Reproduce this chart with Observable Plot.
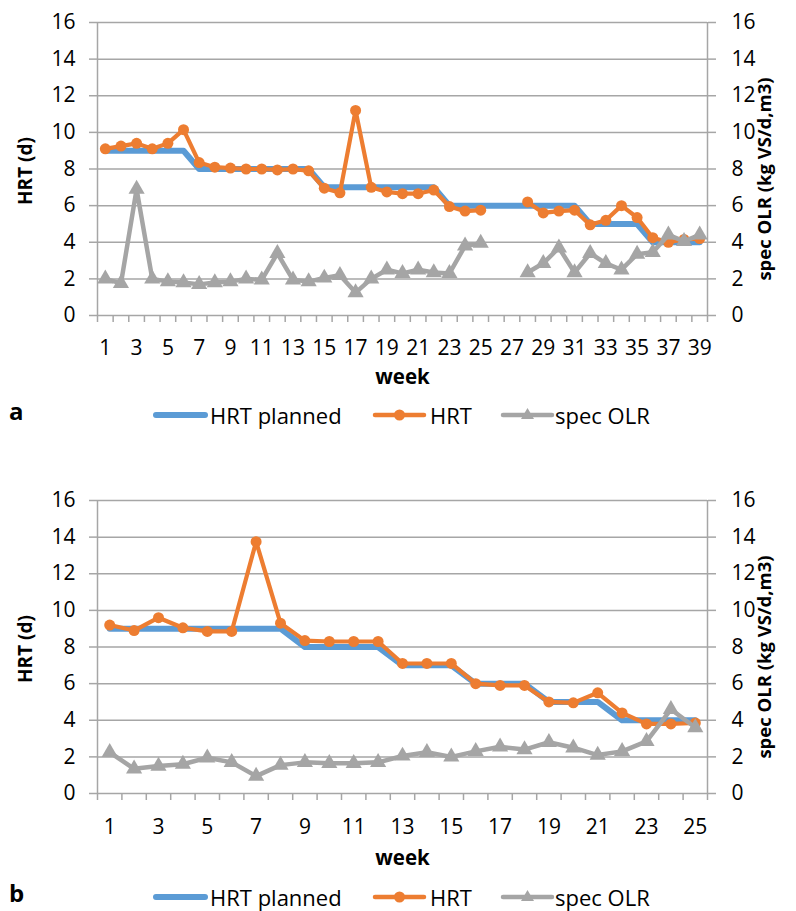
<!DOCTYPE html>
<html><head><meta charset="utf-8">
<script src="https://cdn.jsdelivr.net/npm/d3@7"></script>
<script src="https://cdn.jsdelivr.net/npm/@observablehq/plot@0.6"></script>
<style>
body{margin:0;background:#fff;font-family:"Open Sans",sans-serif;}
#wrap{position:relative;width:796px;height:911px;overflow:hidden;}
.panel{position:absolute;left:0;}
.legend{position:absolute;left:0;width:796px;height:40px;}
.legend .t{position:absolute;top:0;line-height:40px;font-size:22px;color:#000;white-space:nowrap;}
.legend .letter{position:absolute;top:0;line-height:40px;font-size:24px;font-weight:bold;color:#000;}
.legend svg{position:absolute;top:0;}
</style></head><body><div id="wrap"></div>
<script>
// ---- Panel a data ----
const weeksA = [1,2,3,4,5,6,7,8,9,10,11,12,13,14,15,16,17,18,19,20,21,22,23,24,25,26,27,28,29,30,31,32,33,34,35,36,37,38,39];
const plannedA = [9,9,9,9,9,9,8,8,8,8,8,8,8,8,7,7,7,7,7,7,7,7,6,6,6,6,6,6,6,6,6,5,5,5,5,4,4,4,4];
const hrtA = [9.1,9.25,9.4,9.1,9.4,10.15,8.35,8.1,8.05,8.0,8.0,7.95,8.0,7.9,6.95,6.7,11.2,7.0,6.75,6.65,6.65,6.85,5.95,5.7,5.75,null,null,6.2,5.6,5.7,5.75,4.95,5.2,6.0,5.35,4.25,4.0,4.15,4.2];
const olrA = [2.0,1.75,6.9,2.0,1.85,1.8,1.7,1.8,1.85,2.0,1.95,3.4,1.95,1.85,2.05,2.2,1.25,2.0,2.5,2.3,2.5,2.35,2.3,3.8,3.95,null,null,2.35,2.85,3.7,2.35,3.4,2.85,2.5,3.35,3.45,4.4,4.05,4.4];
const labelsA = [1,3,5,7,9,11,13,15,17,19,21,23,25,27,29,31,33,35,37,39];

// ---- Panel b data ----
const weeksB = [1,2,3,4,5,6,7,8,9,10,11,12,13,14,15,16,17,18,19,20,21,22,23,24,25];
const plannedB = [9,9,9,9,9,9,9,9,8,8,8,8,7,7,7,6,6,6,5,5,5,4,4,4,4];
const hrtB = [9.2,8.9,9.6,9.05,8.85,8.85,13.75,9.3,8.35,8.3,8.3,8.3,7.1,7.1,7.1,6.0,5.9,5.9,5.0,4.95,5.5,4.4,3.8,3.8,3.85];
const olrB = [2.25,1.35,1.5,1.6,1.95,1.7,0.95,1.55,1.7,1.65,1.65,1.7,2.05,2.25,2.0,2.3,2.55,2.4,2.8,2.5,2.1,2.3,2.85,4.6,3.6];
const labelsB = [1,3,5,7,9,11,13,15,17,19,21,23,25];

const yTicks = [0,2,4,6,8,10,12,14,16];
const seriesNames = ["HRT planned","HRT","spec OLR"];
const colors = {planned:"#5B9BD5", hrt:"#ED7D31", olr:"#A5A5A5"};
const GRID = "#a6a6a6";

function panel(weeks, planned, hrt, olr, labels, labelPad, weekDy){
  const n = weeks.length;
  const rows = weeks.map((w,i)=>({week:w, planned:planned[i], hrt:hrt[i], olr:olr[i]}));
  const bounds = [];
  for (let i = 0; i <= n; i++) bounds.push(i + 0.5);
  return Plot.plot({
    width:796, height:397, marginLeft:97, marginRight:89, marginTop:22, marginBottom:82,
    style:{fontFamily:'"Open Sans",sans-serif', fontSize:"21px", color:"#000", background:"#fff", overflow:"visible"},
    x:{type:"linear", domain:[0.5, n+0.5]},
    y:{domain:[0,16]},
    marks:[
      Plot.ruleY(yTicks, {stroke:GRID, strokeWidth:1.5}),
      Plot.ruleX([0.5, n+0.5], {stroke:GRID, strokeWidth:1.5}),
      Plot.axisY({anchor:"left", ticks:yTicks, tickSize:8, tickPadding:14, label:null, stroke:GRID, strokeWidth:1.5, fill:"#000", fontSize:21}),
      Plot.axisY({anchor:"right", ticks:yTicks, tickSize:8, tickPadding:16, label:null, stroke:GRID, strokeWidth:1.5, fill:"#000", fontSize:21}),
      Plot.axisX({ticks:bounds, tickSize:7, tickFormat:()=>"", label:null, stroke:GRID, strokeWidth:1.5}),
      Plot.axisX({ticks:labels, tickSize:0, tickPadding:labelPad, label:null, tickFormat:d=>String(d), fill:"#000", fontSize:21}),
      Plot.text(["HRT (d)"], {text:d=>d, frameAnchor:"left", textAnchor:"middle", rotate:-90, dx:-72, dy:2, fontWeight:"bold", fontSize:19, fill:"#000"}),
      Plot.text(["spec OLR (kg VS/d,m3)"], {text:d=>d, frameAnchor:"right", textAnchor:"middle", rotate:-90, dx:58, dy:10, fontWeight:"bold", fontSize:18.5, fill:"#000"}),
      Plot.text(["week"], {text:d=>d, frameAnchor:"bottom", textAnchor:"middle", dy:weekDy, fontWeight:"bold", fontSize:20.5, fill:"#000"}),
      Plot.line(rows, {x:"week", y:"planned", stroke:colors.planned, strokeWidth:6}),
      Plot.line(rows, {x:"week", y:"hrt", stroke:colors.hrt, strokeWidth:4.2}),
      Plot.dot(rows, {x:"week", y:"hrt", r:5.5, fill:colors.hrt, stroke:null}),
      Plot.line(rows, {x:"week", y:"olr", stroke:colors.olr, strokeWidth:4.5}),
      Plot.dot(rows, {x:"week", y:"olr", symbol:"triangle", r:6, fill:colors.olr, stroke:null})
    ]
  });
}

function legend(top, letter){
  const div = document.createElement("div");
  div.className = "legend";
  div.style.top = top + "px";
  const sw = (x, kind) => {
    const c = kind==="planned"?colors.planned:kind==="hrt"?colors.hrt:colors.olr;
    let mk = "";
    if (kind==="hrt") mk = `<circle cx="27.5" cy="20" r="5.5" fill="${c}"/>`;
    if (kind==="olr") mk = `<path d="M27.5,13 L34,24 L21,24 Z" fill="${c}"/>`;
    const w = kind==="planned"?6:4.5;
    return `<svg style="left:${x}px" width="55" height="40"><line x1="3" y1="20" x2="52" y2="20" stroke="${c}" stroke-width="${w}" stroke-linecap="round"/>${mk}</svg>`;
  };
  div.innerHTML =
    `<span class="letter" style="left:9px;top:-4px">${letter}</span>` +
    sw(153,"planned") + `<span class="t" style="left:210px">${seriesNames[0]}</span>` +
    sw(372,"hrt") + `<span class="t" style="left:430px">${seriesNames[1]}</span>` +
    sw(500,"olr") + `<span class="t" style="left:555px">${seriesNames[2]}</span>`;
  return div;
}

const wrap = document.getElementById("wrap");
const pa = panel(weeksA, plannedA, hrtA, olrA, labelsA, 25, 68);
pa.classList.add("panel"); pa.style.top = "0px";
wrap.appendChild(pa);
wrap.appendChild(legend(395, "a"));
const pb = panel(weeksB, plannedB, hrtB, olrB, labelsB, 26, 71);
pb.classList.add("panel"); pb.style.top = "478px";
wrap.appendChild(pb);
wrap.appendChild(legend(877, "b"));
</script>
</body></html>
